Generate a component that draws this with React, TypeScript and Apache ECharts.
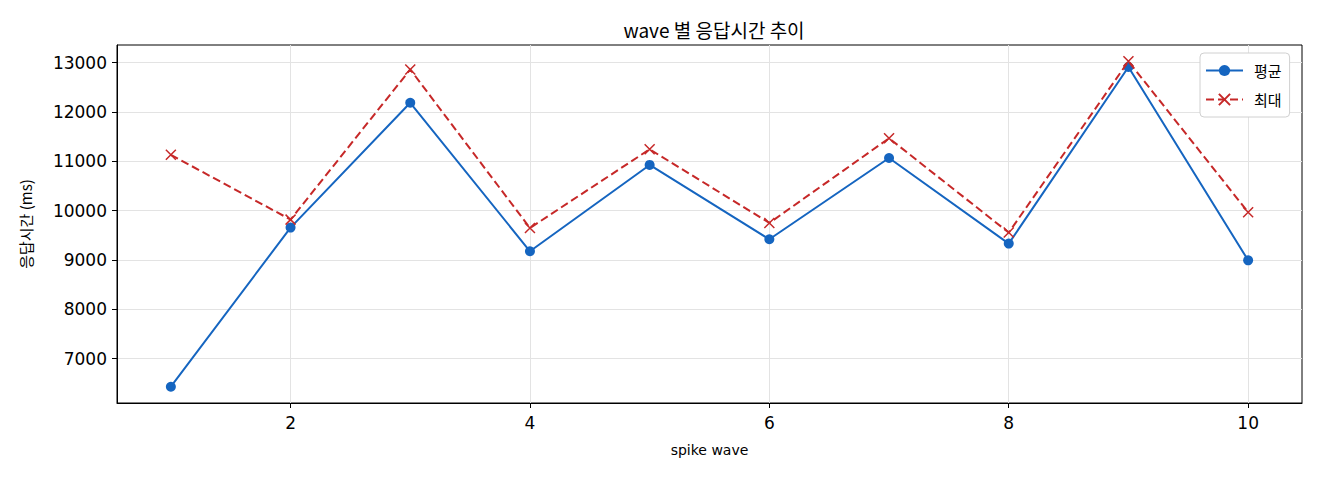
import React, { useEffect, useRef } from 'react';
import * as echarts from 'echarts';

// wave 번호
const waves = [1, 2, 3, 4, 5, 6, 7, 8, 9, 10];
// 평균 응답시간 (ms)
const avgMs = [6430, 9655, 12185, 9175, 10925, 9418, 11065, 9331, 12911, 8992];
// 최대 응답시간 (ms)
const maxMs = [11130, 9817, 12860, 9647, 11243, 9749, 11466, 9554, 13026, 9966];

const xTicks = [2, 4, 6, 8, 10];
const yTicks = [7000, 8000, 9000, 10000, 11000, 12000, 13000];

const BLUE = '#1565c0';
const RED = '#c62828';
const FONT = '"DejaVu Sans", "Noto Sans CJK KR", sans-serif';
const KR_FONT = '"Noto Sans CJK KR", sans-serif';

const App: React.FC = () => {
    const chartRef = useRef<HTMLDivElement>(null);

    useEffect(() => {
        if (!chartRef.current) return;
        const chart = echarts.init(chartRef.current, undefined, { renderer: 'svg' });

        chart.setOption({
            animation: false,
            backgroundColor: '#ffffff',
            title: {
                text: 'wave 별 응답시간 추이',
                left: 709,
                top: 15,
                textAlign: 'center',
                textStyle: { fontFamily: KR_FONT, fontSize: 19, fontWeight: 'normal', color: '#000' },
            },
            legend: {
                orient: 'vertical',
                left: 1200,
                top: 53,
                padding: [10, 8, 10, 5],
                itemWidth: 37,
                itemHeight: 14,
                itemGap: 14,
                backgroundColor: '#fff',
                borderColor: '#d0d0d0',
                borderWidth: 1,
                borderRadius: 4,
                textStyle: { fontFamily: KR_FONT, fontSize: 15, color: '#000', padding: [0, 0, 0, 6] },
                data: ['평균', '최대'],
            },
            grid: {
                left: 117,
                right: 18,
                top: 45,
                bottom: 77,
                show: true,
                borderColor: '#000',
                borderWidth: 1,
            },
            xAxis: {
                type: 'value',
                min: 0.55,
                max: 10.45,
                name: 'spike wave',
                nameLocation: 'middle',
                nameGap: 40,
                nameTextStyle: { fontFamily: FONT, fontSize: 14, color: '#000' },
                axisLine: { show: true, onZero: false, lineStyle: { color: '#000', width: 1 } },
                axisTick: { show: true, length: 5, customValues: xTicks, lineStyle: { color: '#000' } },
                axisLabel: {
                    customValues: xTicks,
                    margin: 11,
                    fontFamily: FONT,
                    fontSize: 17,
                    color: '#000',
                    formatter: (v: number) => String(v),
                },
                splitLine: { show: true, lineStyle: { color: '#e3e3e3', width: 1 } },
            },
            yAxis: {
                type: 'value',
                min: 6100,
                max: 13356,
                name: '응답시간 (ms)',
                nameLocation: 'middle',
                nameGap: 84,
                nameTextStyle: { fontFamily: KR_FONT, fontSize: 15, color: '#000' },
                axisLine: { show: true, onZero: false, lineStyle: { color: '#000', width: 1 } },
                axisTick: { show: true, length: 5, customValues: yTicks, lineStyle: { color: '#000' } },
                axisLabel: {
                    customValues: yTicks,
                    margin: 10,
                    fontFamily: FONT,
                    fontSize: 17,
                    color: '#000',
                    formatter: (v: number) => String(v),
                },
                splitLine: { show: true, lineStyle: { color: '#e3e3e3', width: 1 } },
            },
            series: [
                {
                    name: '평균',
                    type: 'line',
                    data: waves.map((w, i) => [w, avgMs[i]]),
                    symbol: 'circle',
                    symbolSize: 10,
                    lineStyle: { color: BLUE, width: 2 },
                    itemStyle: { color: BLUE },
                    z: 3,
                },
                {
                    name: '최대',
                    type: 'line',
                    data: waves.map((w, i) => [w, maxMs[i]]),
                    symbol: 'path://M0,0L10,10M10,0L0,10',
                    symbolSize: 10,
                    lineStyle: { color: RED, width: 2, type: [8, 4] },
                    itemStyle: { color: RED, borderColor: RED, borderWidth: 1.5 },
                    z: 4,
                },
            ],
        });

        return () => chart.dispose();
    }, []);

    return (
        <div
            ref={chartRef}
            style={{ position: 'fixed', left: 0, top: 0, width: 1320, height: 480, background: '#fff' }}
        />
    );
};

export default App;
